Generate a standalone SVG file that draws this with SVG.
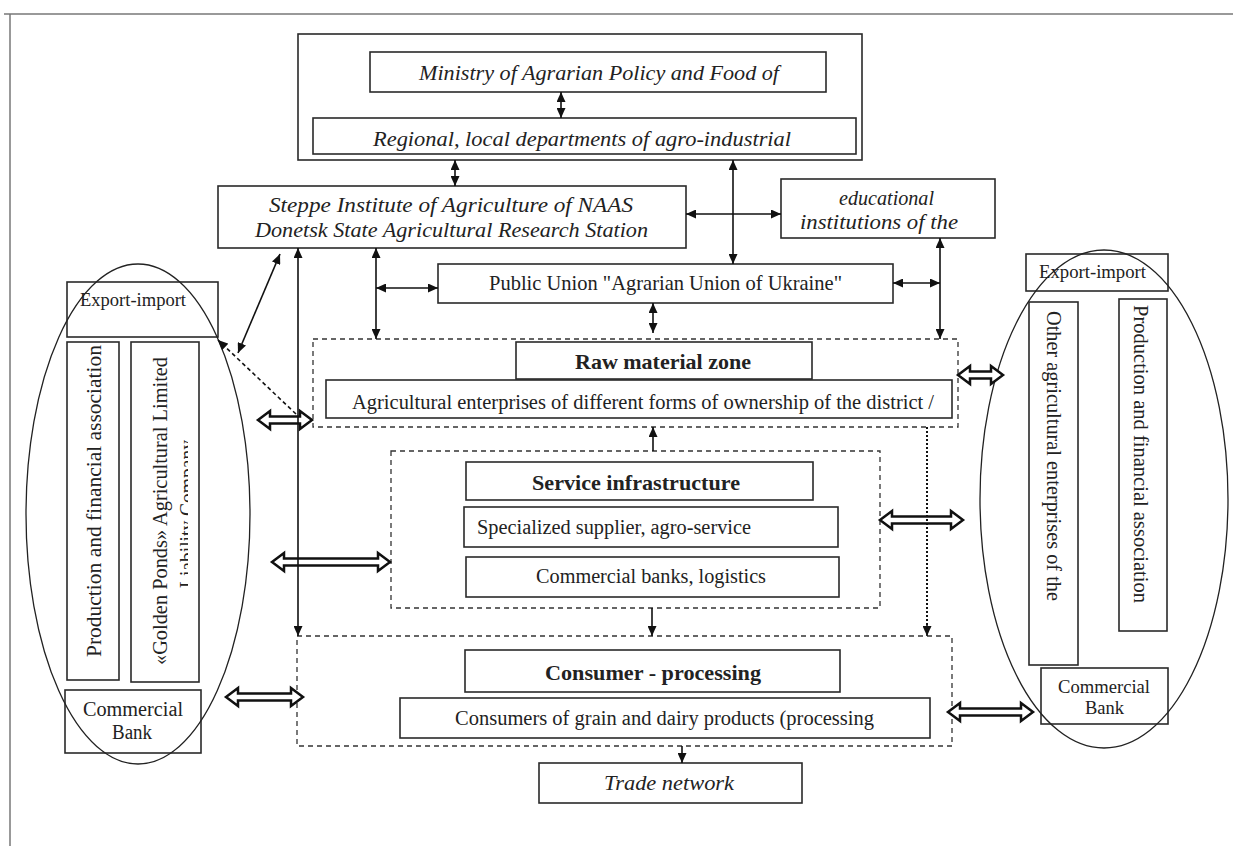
<svg xmlns="http://www.w3.org/2000/svg" width="1233" height="846" viewBox="0 0 1233 846">
<defs>
<style>
.bx{fill:#fff;stroke:#2a2a2a;stroke-width:1.6}
.ds{fill:none;stroke:#333;stroke-width:1.3;stroke-dasharray:5,4}
.el{fill:none;stroke:#222;stroke-width:1.3}
.ln{fill:none;stroke:#111;stroke-width:1.6}
.ha{fill:#fff;stroke:#111;stroke-width:2.5;stroke-linejoin:miter}
.t{font-family:"Liberation Serif","Times New Roman",serif;fill:#222}
.it{font-style:italic;font-size:22px}
.rg{font-size:20px}
.bd{font-weight:bold;font-size:22px}
</style>
<marker id="ah" markerUnits="userSpaceOnUse" markerWidth="10" markerHeight="9" refX="10" refY="4.5" orient="auto-start-reverse">
<path d="M0,0 L10,4.5 L0,9 z" fill="#111"/>
</marker>
<clipPath id="gpclip"><rect x="131" y="342" width="57" height="340"/></clipPath>
</defs>

<rect width="1233" height="846" fill="#fff"/>
<g id="frame" stroke="#777" stroke-width="1.5" fill="none">
<line x1="4" y1="14" x2="1233" y2="14"/>
<line x1="10" y1="14" x2="10" y2="846"/>
</g>

<g id="gov">
<rect class="bx" x="298" y="34" width="564" height="126"/>
</g>
<g id="ministry">
<rect class="bx" x="370" y="52" width="456" height="40"/>
<text class="t it" x="419" y="80" textLength="360" lengthAdjust="spacingAndGlyphs">Ministry of Agrarian Policy and Food of</text>
</g>
<g id="regional">
<rect class="bx" x="313" y="118" width="543" height="36"/>
<text class="t it" x="373" y="146" textLength="418" lengthAdjust="spacingAndGlyphs">Regional, local departments of agro-industrial</text>
</g>
<g id="steppe">
<rect class="bx" x="218" y="186" width="468" height="62"/>
<text class="t it" x="269" y="212" textLength="364" lengthAdjust="spacingAndGlyphs">Steppe Institute of Agriculture of NAAS</text>
<text class="t it" x="255" y="237" textLength="393" lengthAdjust="spacingAndGlyphs">Donetsk State Agricultural Research Station</text>
</g>
<g id="educational">
<rect class="bx" x="781" y="179" width="214" height="59"/>
<text class="t it" x="839" y="205" font-size="21" textLength="95" lengthAdjust="spacingAndGlyphs">educational</text>
<text class="t it" x="800" y="229" font-size="21" textLength="158" lengthAdjust="spacingAndGlyphs">institutions of the</text>
</g>
<g id="public-union">
<rect class="bx" x="438" y="264" width="455" height="39"/>
<text class="t" x="489" y="290" font-size="21" textLength="353" lengthAdjust="spacingAndGlyphs">Public Union "Agrarian Union of Ukraine"</text>
</g>

<g id="raw-zone">
<rect class="ds" x="313" y="339" width="645" height="88"/>
<rect class="bx" x="516" y="342" width="296" height="37"/>
<text class="t bd" x="575" y="369" textLength="176" lengthAdjust="spacingAndGlyphs">Raw material zone</text>
<rect class="bx" x="326" y="380" width="626" height="38"/>
<text class="t rg" x="352" y="409" textLength="582" lengthAdjust="spacingAndGlyphs">Agricultural enterprises of different forms of ownership of the district /</text>
</g>
<g id="service">
<rect class="ds" x="391" y="451" width="489" height="157"/>
<rect class="bx" x="466" y="462" width="347" height="38"/>
<text class="t bd" x="532" y="490" textLength="208" lengthAdjust="spacingAndGlyphs">Service infrastructure</text>
<rect class="bx" x="464" y="507" width="374" height="40"/>
<text class="t rg" x="477" y="534" textLength="274" lengthAdjust="spacingAndGlyphs">Specialized supplier, agro-service</text>
<rect class="bx" x="466" y="557" width="373" height="40"/>
<text class="t rg" x="536" y="583" textLength="230" lengthAdjust="spacingAndGlyphs">Commercial banks, logistics</text>
</g>
<g id="consumer">
<rect class="ds" x="297" y="636" width="655" height="110"/>
<rect class="bx" x="465" y="650" width="375" height="42"/>
<text class="t bd" x="545" y="680" textLength="216" lengthAdjust="spacingAndGlyphs">Consumer - processing</text>
<rect class="bx" x="400" y="698" width="530" height="40"/>
<text class="t rg" x="455" y="725" textLength="419" lengthAdjust="spacingAndGlyphs">Consumers of grain and dairy products (processing</text>
</g>
<g id="trade">
<rect class="bx" x="539" y="763" width="263" height="40"/>
<text class="t it" x="604" y="790" textLength="130" lengthAdjust="spacingAndGlyphs">Trade network</text>
</g>

<g id="left-group">
<rect class="bx" x="67" y="282" width="151" height="55"/>
<text class="t" font-size="19" x="80" y="306" textLength="106" lengthAdjust="spacingAndGlyphs">Export-import</text>
<rect class="bx" x="67" y="342" width="52" height="338"/>
<text class="t" font-size="21" transform="translate(101,657) rotate(-90)" textLength="312" lengthAdjust="spacingAndGlyphs">Production and financial association</text>
<rect class="bx" x="131" y="342" width="68" height="340"/>
<text class="t" font-size="20" transform="translate(167,665) rotate(-90)" textLength="308" lengthAdjust="spacingAndGlyphs">«Golden Ponds» Agricultural Limited</text>
<g clip-path="url(#gpclip)">
<text class="t" font-size="20" transform="translate(194,588) rotate(-90)" textLength="148" lengthAdjust="spacingAndGlyphs">Liability Company</text>
</g>
<rect class="bx" x="65" y="690" width="136" height="63"/>
<text class="t" font-size="20" x="83" y="716" textLength="100" lengthAdjust="spacingAndGlyphs">Commercial</text>
<text class="t" font-size="20" x="112" y="739" textLength="40" lengthAdjust="spacingAndGlyphs">Bank</text>
<ellipse class="el" cx="138" cy="514" rx="112" ry="250"/>
</g>

<g id="right-group">
<rect class="bx" x="1026" y="254" width="142" height="37"/>
<text class="t" font-size="19" x="1039" y="278" textLength="107" lengthAdjust="spacingAndGlyphs">Export-import</text>
<rect class="bx" x="1029" y="302" width="49" height="363"/>
<text class="t" font-size="20" transform="translate(1047,311) rotate(90)" textLength="290" lengthAdjust="spacingAndGlyphs">Other agricultural enterprises of the</text>
<rect class="bx" x="1119" y="299" width="48" height="332"/>
<text class="t" font-size="20" transform="translate(1134,305) rotate(90)" textLength="298" lengthAdjust="spacingAndGlyphs">Production and financial association</text>
<rect class="bx" x="1041" y="668" width="127" height="56"/>
<text class="t" font-size="19" x="1058" y="693" textLength="92" lengthAdjust="spacingAndGlyphs">Commercial</text>
<text class="t" font-size="19" x="1085" y="714" textLength="39" lengthAdjust="spacingAndGlyphs">Bank</text>
<ellipse class="el" cx="1104" cy="499" rx="124" ry="249"/>
</g>

<g id="connectors">
<path class="ha" d="M258,420 l12,-9 v5.5 h30 v-5.5 l12,9 l-12,9 v-5.5 h-30 v5.5 z"/>
<path class="ha" d="M272,562 l12,-9 v5.5 h94 v-5.5 l12,9 l-12,9 v-5.5 h-94 v5.5 z"/>
<path class="ha" d="M226,697 l12,-9 v5.5 h53 v-5.5 l12,9 l-12,9 v-5.5 h-53 v5.5 z"/>
<path class="ha" d="M958,375 l12,-9 v5.5 h21 v-5.5 l12,9 l-12,9 v-5.5 h-21 v5.5 z"/>
<path class="ha" d="M880,520 l12,-9 v5.5 h59 v-5.5 l12,9 l-12,9 v-5.5 h-59 v5.5 z"/>
<path class="ha" d="M948,712 l12,-9 v5.5 h61 v-5.5 l12,9 l-12,9 v-5.5 h-61 v5.5 z"/>

<line class="ln" x1="561" y1="92" x2="561" y2="118" marker-start="url(#ah)" marker-end="url(#ah)"/>
<line class="ln" x1="455" y1="160" x2="455" y2="186" marker-start="url(#ah)" marker-end="url(#ah)"/>
<line class="ln" x1="733" y1="160" x2="733" y2="264" marker-start="url(#ah)" marker-end="url(#ah)"/>
<line class="ln" x1="686" y1="214" x2="781" y2="214" marker-start="url(#ah)" marker-end="url(#ah)"/>
<line class="ln" x1="376" y1="248" x2="376" y2="339" marker-start="url(#ah)" marker-end="url(#ah)"/>
<line class="ln" x1="376" y1="288" x2="438" y2="288" marker-start="url(#ah)" marker-end="url(#ah)"/>
<line class="ln" x1="940" y1="238" x2="940" y2="339" marker-start="url(#ah)" marker-end="url(#ah)"/>
<line class="ln" x1="893" y1="283" x2="940" y2="283" marker-start="url(#ah)" marker-end="url(#ah)"/>
<line class="ln" x1="653" y1="303" x2="653" y2="333" marker-start="url(#ah)" marker-end="url(#ah)"/>
<line class="ln" x1="653" y1="451" x2="653" y2="427" marker-end="url(#ah)"/>
<line class="ln" x1="652" y1="608" x2="652" y2="636" marker-end="url(#ah)"/>
<line x1="927" y1="427" x2="927" y2="630" stroke="#111" stroke-width="2" stroke-dasharray="2,2"/>
<line class="ln" x1="927" y1="625" x2="927" y2="636" marker-end="url(#ah)"/>
<line class="ln" x1="682" y1="746" x2="682" y2="763" marker-end="url(#ah)"/>
<line class="ln" x1="298" y1="248" x2="298" y2="636" marker-start="url(#ah)" marker-end="url(#ah)"/>
<line class="ln" x1="280" y1="254" x2="238" y2="353" marker-start="url(#ah)" marker-end="url(#ah)"/>
<line class="ln" x1="296" y1="414" x2="218" y2="340" stroke-dasharray="4,3" marker-end="url(#ah)"/>
</g>
</svg>
